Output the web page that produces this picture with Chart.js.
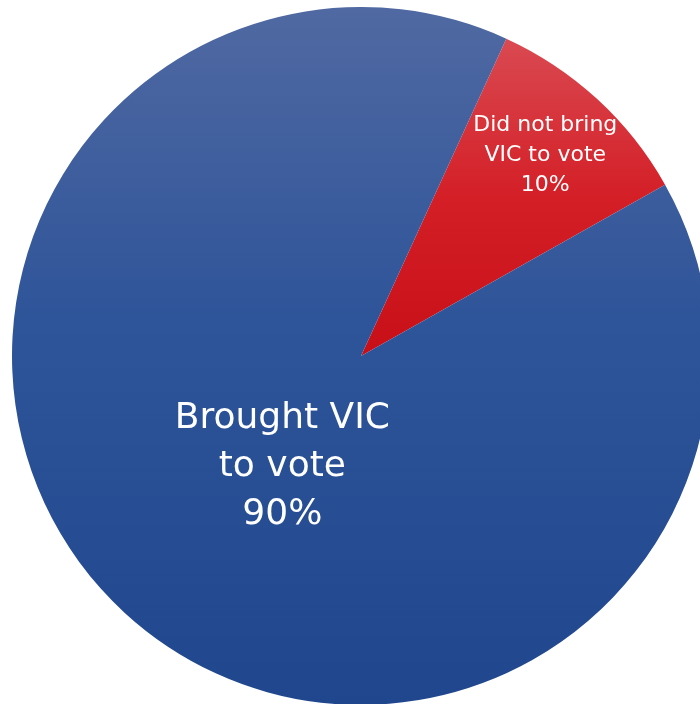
<!DOCTYPE html>
<html>
<head>
<meta charset="utf-8">
<script src="https://cdn.jsdelivr.net/npm/chart.js@4/dist/chart.umd.min.js"></script>
<style>
    html, body { margin: 0; padding: 0; background: #fff; overflow: hidden; }
    body { width: 700px; height: 704px; position: relative; }
    #wrap { position: absolute; left: 12px; top: 7px; width: 698px; height: 698px; }
</style>
</head>
<body>
<div id="wrap"><canvas id="pieChart"></canvas></div>
<script>
// 数据
const categories = ['Did not bring VIC to vote', 'Brought VIC to vote'];
const shares = [10, 90];
const labelLines = [
    ['Did not bring', 'VIC to vote', '10%'],
    ['Brought VIC', 'to vote', '90%']
];

// 标签位置：半径比例 + 角度偏移（度）
const labelPlace = [
    { r: 0.78, a: 0, size: 22, gap: 30 },
    { r: 0.39, a: -7.3, size: 36, gap: 48 }
];

// 渐变填充
function sliceFill(ctx) {
    const chart = ctx.chart;
    const area = chart.chartArea;
    if (!area) return ctx.dataIndex === 0 ? '#d42028' : '#2d5399';
    const c = chart.ctx;
    if (ctx.dataIndex === 0) {
        const cy = (area.top + area.bottom) / 2;
        const g = c.createLinearGradient(0, area.top + 30, 0, cy);
        g.addColorStop(0, '#da4a52');
        g.addColorStop(0.5, '#d41f27');
        g.addColorStop(1, '#c80f18');
        return g;
    }
    const g = c.createLinearGradient(0, area.top, 0, area.bottom);
    g.addColorStop(0, '#5069a2');
    g.addColorStop(0.45, '#2e5499');
    g.addColorStop(1, '#20478e');
    return g;
}

// 扇区文字
const sliceLabels = {
    id: 'sliceLabels',
    afterDatasetsDraw(chart) {
        const ctx = chart.ctx;
        const meta = chart.getDatasetMeta(0);
        ctx.save();
        ctx.fillStyle = '#ffffff';
        ctx.textAlign = 'center';
        ctx.textBaseline = 'middle';
        meta.data.forEach((arc, i) => {
            const p = labelPlace[i];
            const mid = (arc.startAngle + arc.endAngle) / 2 + p.a * Math.PI / 180;
            const rr = arc.outerRadius * p.r;
            const x = arc.x + Math.cos(mid) * rr;
            const y = arc.y + Math.sin(mid) * rr;
            const lines = labelLines[i];
            ctx.font = p.size + 'px "DejaVu Sans"';
            lines.forEach((t, k) => {
                ctx.fillText(t, x, y + (k - (lines.length - 1) / 2) * p.gap);
            });
        });
        ctx.restore();
    }
};

new Chart(document.getElementById('pieChart'), {
    type: 'pie',
    data: {
        labels: categories,
        datasets: [{
            data: shares,
            backgroundColor: sliceFill,
            borderWidth: 0
        }]
    },
    options: {
        responsive: true,
        maintainAspectRatio: false,
        animation: false,
        rotation: 24.6,
        layout: { padding: 0 },
        plugins: {
            legend: { display: false },
            tooltip: { enabled: false }
        }
    },
    plugins: [sliceLabels]
});
</script>
</body>
</html>
